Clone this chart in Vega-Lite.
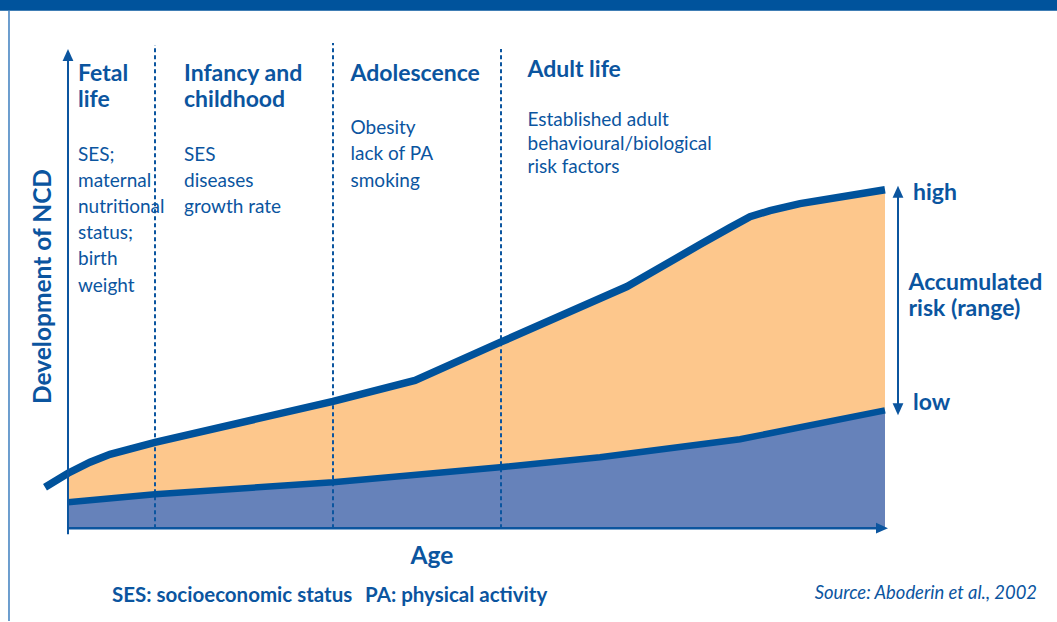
{
  "$schema": "https://vega.github.io/schema/vega-lite/v6.json",
  "width": 1057,
  "height": 622,
  "autosize": {"type": "fit", "contains": "padding"},
  "padding": 0,
  "background": "white",
  "config": {"view": {"stroke": null}},
  "datasets": {
    "topbar": [{"age": -8.3231, "age2": 121.0526, "risk": 152.89, "risk2": 156.0472}],
    "frame": [{"age": -7.222, "risk": -27.4336, "risk2": 152.89}],
    "upper": [
      {"age": -2.815, "risk": 12.09},
      {"age": 0, "risk": 16.22},
      {"age": 2.693, "risk": 19.47},
      {"age": 5.141, "risk": 21.83},
      {"age": 10.649, "risk": 25.37},
      {"age": 32.436, "risk": 37.46},
      {"age": 42.472, "risk": 43.66},
      {"age": 52.876, "risk": 54.87},
      {"age": 68.421, "risk": 71.39},
      {"age": 77.356, "risk": 83.78},
      {"age": 81.028, "risk": 88.79},
      {"age": 83.476, "risk": 92.04},
      {"age": 85.924, "risk": 93.81},
      {"age": 89.596, "risk": 95.87},
      {"age": 100, "risk": 100}
    ],
    "lower": [
      {"age": 0, "risk": 7.67},
      {"age": 10.649, "risk": 10.03},
      {"age": 32.436, "risk": 13.57},
      {"age": 52.876, "risk": 17.99},
      {"age": 65.116, "risk": 20.94},
      {"age": 82.252, "risk": 26.25},
      {"age": 100, "risk": 34.81}
    ],
    "dividers": [
      {"age": 10.649, "risk": 0, "risk2": 142.773},
      {"age": 32.436, "risk": 0, "risk2": 143.363},
      {"age": 52.999, "risk": 0, "risk2": 141.593}
    ],
    "vrules": [
      {"age": 0, "risk": -1.77, "risk2": 138.94},
      {"age": 101.591, "risk": 36.28, "risk2": 98.23}
    ],
    "hrules": [
      {"age": 0, "age2": 99.388, "risk": 0}
    ],
    "arrows": [
      {"age": 0, "risk": 139.823, "dir": "up"},
      {"age": 99.633, "risk": 0, "dir": "right"},
      {"age": 101.591, "risk": 99.41, "dir": "up"},
      {"age": 101.591, "risk": 35.103, "dir": "down"}
    ],
    "labels": [
      {"text": "Fetal", "age": 1.224, "risk": 132.153, "kind": "head"},
      {"text": "life", "age": 1.224, "risk": 124.484, "kind": "head"},
      {"text": "Infancy and", "age": 14.198, "risk": 132.153, "kind": "head"},
      {"text": "childhood", "age": 14.198, "risk": 124.484, "kind": "head"},
      {"text": "Adolescence", "age": 34.578, "risk": 132.242, "kind": "head"},
      {"text": "Adult life", "age": 56.242, "risk": 133.245, "kind": "head"},
      {"text": "SES;", "age": 1.224, "risk": 108.555, "kind": "body"},
      {"text": "maternal", "age": 1.224, "risk": 100.885, "kind": "body"},
      {"text": "nutritional", "age": 1.224, "risk": 93.068, "kind": "body"},
      {"text": "status;", "age": 1.224, "risk": 85.398, "kind": "body"},
      {"text": "birth", "age": 1.224, "risk": 77.729, "kind": "body"},
      {"text": "weight", "age": 1.224, "risk": 69.912, "kind": "body"},
      {"text": "SES", "age": 14.198, "risk": 108.555, "kind": "body"},
      {"text": "diseases", "age": 14.198, "risk": 100.885, "kind": "body"},
      {"text": "growth rate", "age": 14.198, "risk": 93.068, "kind": "body"},
      {"text": "Obesity", "age": 34.578, "risk": 116.519, "kind": "body"},
      {"text": "lack of PA", "age": 34.578, "risk": 108.702, "kind": "body"},
      {"text": "smoking", "age": 34.578, "risk": 100.885, "kind": "body"},
      {"text": "Established adult", "age": 56.242, "risk": 118.879, "kind": "body"},
      {"text": "behavioural/biological", "age": 56.242, "risk": 111.799, "kind": "body"},
      {"text": "risk factors", "age": 56.242, "risk": 104.867, "kind": "body"},
      {"text": "high", "age": 103.427, "risk": 96.903, "kind": "right"},
      {"text": "low", "age": 103.427, "risk": 34.808, "kind": "right"},
      {"text": "Accumulated", "age": 102.876, "risk": 70.501, "kind": "right"},
      {"text": "risk (range)", "age": 102.876, "risk": 62.684, "kind": "right"},
      {"text": "Age", "age": 44.553, "risk": -10.619, "kind": "xtitle"},
      {"text": "Development of NCD", "age": -2.081, "risk": 71.386, "kind": "ytitle"},
      {"text": "SES: socioeconomic status", "age": 5.386, "risk": -21.829, "kind": "foot"},
      {"text": "PA: physical activity", "age": 36.353, "risk": -21.829, "kind": "foot"},
      {"text": "Source: Aboderin et al., 2002", "age": 118.605, "risk": -20.944, "kind": "source"}
    ]
  },
  "encoding": {
    "x": {"field": "age", "type": "quantitative", "scale": {"domain": [-8.3231, 121.0526], "nice": false, "zero": false}, "axis": null},
    "y": {"field": "risk", "type": "quantitative", "scale": {"domain": [-27.4336, 156.0472], "nice": false, "zero": false}, "axis": null}
  },
  "layer": [
    {"data": {"name": "topbar"}, "mark": {"type": "rect", "color": "#00539c"}, "encoding": {"x2": {"field": "age2"}, "y2": {"field": "risk2"}}},
    {"data": {"name": "frame"}, "mark": {"type": "rule", "color": "#3d7ebf", "strokeWidth": 1.5}, "encoding": {"y2": {"field": "risk2"}}},
    {"data": {"name": "upper"}, "transform": [{"filter": "datum.age >= 0"}], "mark": {"type": "area", "color": "#fdc78c", "opacity": 1}, "encoding": {"y2": {"datum": 0}}},
    {"data": {"name": "lower"}, "mark": {"type": "area", "color": "#6682ba", "opacity": 1}, "encoding": {"y2": {"datum": 0}}},
    {"data": {"name": "dividers"}, "mark": {"type": "rule", "color": "#0b559f", "strokeWidth": 2, "strokeDash": [4, 3]}, "encoding": {"y2": {"field": "risk2"}}},
    {"data": {"name": "lower"}, "mark": {"type": "line", "color": "#00529b", "strokeWidth": 6.5, "strokeCap": "butt"}, "encoding": {}},
    {"data": {"name": "upper"}, "mark": {"type": "line", "color": "#00529b", "strokeWidth": 7.5, "strokeCap": "butt"}, "encoding": {}},
    {"data": {"name": "vrules"}, "mark": {"type": "rule", "color": "#0b559f", "strokeWidth": 2}, "encoding": {"y2": {"field": "risk2"}}},
    {"data": {"name": "hrules"}, "mark": {"type": "rule", "color": "#0b559f", "strokeWidth": 2.5}, "encoding": {"x2": {"field": "age2"}}},
    {"data": {"name": "arrows"}, "mark": {"type": "point", "filled": true, "opacity": 1, "color": "#0b559f", "size": 144, "strokeWidth": 0}, "encoding": {"shape": {"field": "dir", "type": "nominal", "scale": {"domain": ["up", "down", "right"], "range": ["M0,-1L-0.9,1L0.9,1Z", "M0,1L-0.9,-1L0.9,-1Z", "M1,0L-1,-0.9L-1,0.9Z"]}, "legend": null}}},
    {"data": {"name": "labels"}, "transform": [{"filter": "datum.kind === 'head'"}], "mark": {"type": "text", "font": "Lato", "fontWeight": "bold", "fontSize": 23, "align": "left", "baseline": "alphabetic", "color": "#0b559f"}, "encoding": {"text": {"field": "text"}}},
    {"data": {"name": "labels"}, "transform": [{"filter": "datum.kind === 'body'"}], "mark": {"type": "text", "font": "Lato", "fontSize": 19, "align": "left", "baseline": "alphabetic", "color": "#0b559f"}, "encoding": {"text": {"field": "text"}}},
    {"data": {"name": "labels"}, "transform": [{"filter": "datum.kind === 'right'"}], "mark": {"type": "text", "font": "Lato", "fontWeight": "bold", "fontSize": 23, "align": "left", "baseline": "alphabetic", "color": "#0b559f"}, "encoding": {"text": {"field": "text"}}},
    {"data": {"name": "labels"}, "transform": [{"filter": "datum.kind === 'xtitle'"}], "mark": {"type": "text", "font": "Lato", "fontWeight": "bold", "fontSize": 24.5, "align": "center", "baseline": "alphabetic", "color": "#0b559f"}, "encoding": {"text": {"field": "text"}}},
    {"data": {"name": "labels"}, "transform": [{"filter": "datum.kind === 'ytitle'"}], "mark": {"type": "text", "font": "Lato", "fontWeight": "bold", "fontSize": 24.5, "angle": 270, "align": "center", "baseline": "alphabetic", "color": "#0b559f"}, "encoding": {"text": {"field": "text"}}},
    {"data": {"name": "labels"}, "transform": [{"filter": "datum.kind === 'foot'"}], "mark": {"type": "text", "font": "Lato", "fontWeight": "bold", "fontSize": 20.5, "align": "left", "baseline": "alphabetic", "color": "#0b559f"}, "encoding": {"text": {"field": "text"}}},
    {"data": {"name": "labels"}, "transform": [{"filter": "datum.kind === 'source'"}], "mark": {"type": "text", "font": "Lato", "fontStyle": "italic", "fontSize": 18.4, "align": "right", "baseline": "alphabetic", "color": "#0b559f"}, "encoding": {"text": {"field": "text"}}}
  ]
}
